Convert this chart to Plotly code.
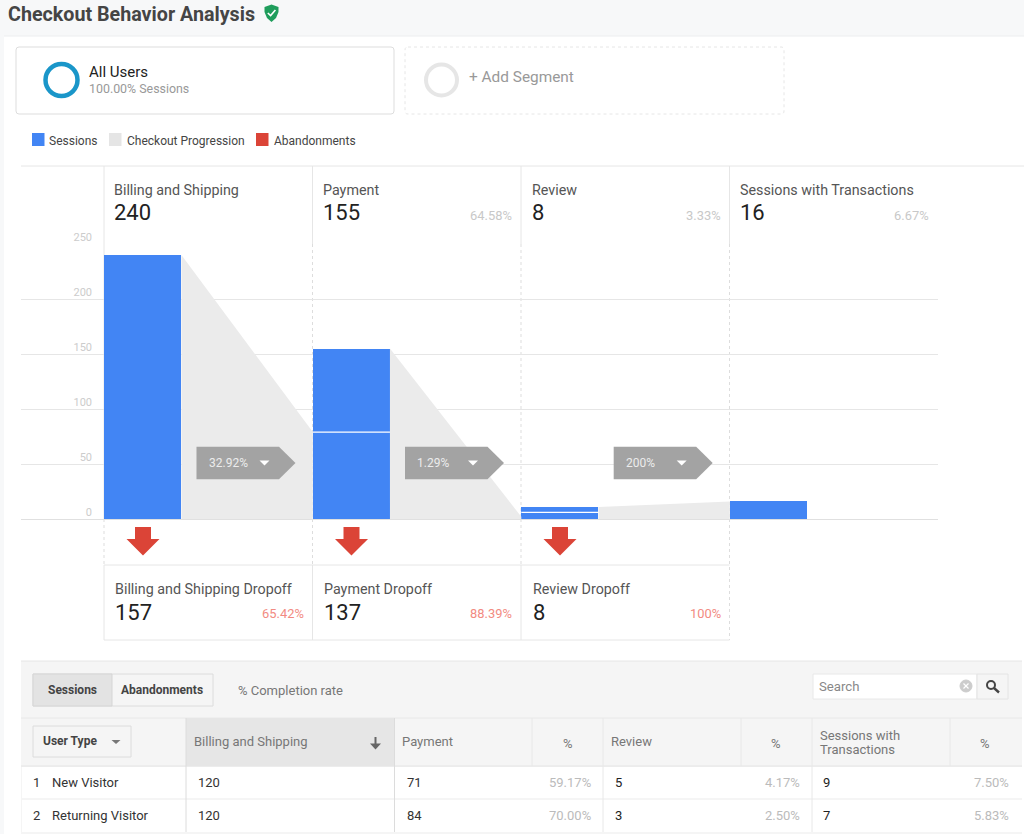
import plotly.graph_objects as go

W, H = 1024, 834

# ---------- data ----------
steps = ["Billing and Shipping", "Payment", "Review", "Sessions with Transactions"]
step_values = ["240", "155", "8", "16"]
step_pcts = ["", "64.58%", "3.33%", "6.67%"]
sessions_lower = [240, 79, 6, 16]
sessions_upper = [0, 76, 5, 0]
funnel_from = [240, 155, 11]
funnel_to = [79, 2, 16]
rates = ["32.92%", "1.29%", "200%"]
dropoff_names = ["Billing and Shipping Dropoff", "Payment Dropoff", "Review Dropoff"]
dropoff_values = ["157", "137", "8"]
dropoff_pcts = ["65.42%", "88.39%", "100%"]
y_ticks = [0, 50, 100, 150, 200, 250]
legend_names = ["Sessions", "Checkout Progression", "Abandonments"]
legend_colors = ["#4285f4", "#e5e5e5", "#db4437"]
table_rows = ["New Visitor", "Returning Visitor"]
table_billing = ["120", "120"]
table_payment = ["71", "84"]
table_payment_pct = ["59.17%", "70.00%"]
table_review = ["5", "3"]
table_review_pct = ["4.17%", "2.50%"]
table_trans = ["9", "7"]
table_trans_pct = ["7.50%", "5.83%"]

FONT = "Roboto"
shapes, notes = [], []


def fx(x):
    return x / W


def fy(y):
    return 1 - y / H


def text(x, y, s, size=13, color="#444444", anchor="left", weight=None):
    t = f"<b>{s}</b>" if weight else s
    if anchor == "left":
        x -= 1.5
    notes.append(dict(x=fx(x), y=fy(y), xref="paper", yref="paper", text=t, showarrow=False,
                      xanchor=anchor, yanchor="middle", borderpad=0,
                      font=dict(family=FONT, size=size, color=color)))


def rect(x0, y0, x1, y1, fill=None, line=None, width=1, dash=None, layer="below"):
    shapes.append(dict(type="rect", xref="paper", yref="paper", x0=fx(x0), x1=fx(x1), y0=fy(y0), y1=fy(y1),
                       fillcolor=fill or "rgba(0,0,0,0)", layer=layer,
                       line=dict(color=line or "rgba(0,0,0,0)", width=width if line else 0, dash=dash or "solid")))


def rrect(x0, y0, x1, y1, r, fill, line, dash=None):
    X, Y = fx, fy
    d = (f"M{X(x0 + r)},{Y(y0)} L{X(x1 - r)},{Y(y0)} Q{X(x1)},{Y(y0)} {X(x1)},{Y(y0 + r)} "
         f"L{X(x1)},{Y(y1 - r)} Q{X(x1)},{Y(y1)} {X(x1 - r)},{Y(y1)} L{X(x0 + r)},{Y(y1)} "
         f"Q{X(x0)},{Y(y1)} {X(x0)},{Y(y1 - r)} L{X(x0)},{Y(y0 + r)} Q{X(x0)},{Y(y0)} {X(x0 + r)},{Y(y0)} Z")
    shapes.append(dict(type="path", xref="paper", yref="paper", path=d, fillcolor=fill, layer="below",
                       line=dict(color=line, width=1, dash=dash or "solid")))


def seg(x0, y0, x1, y1, color="#e6e6e6", width=1, dash=None, layer="below"):
    shapes.append(dict(type="line", xref="paper", yref="paper", x0=fx(x0), x1=fx(x1), y0=fy(y0), y1=fy(y1),
                       layer=layer, line=dict(color=color, width=width, dash=dash or "solid")))


def poly(points, fill, layer="above"):
    d = "M" + " L".join(f"{fx(a):.5f},{fy(b):.5f}" for a, b in points) + " Z"
    shapes.append(dict(type="path", xref="paper", yref="paper", path=d, fillcolor=fill, layer=layer, line=dict(width=0)))


def ring(cx, cy, r, color, width, fill=None):
    shapes.append(dict(type="circle", xref="paper", yref="paper", x0=fx(cx - r), x1=fx(cx + r), y0=fy(cy - r), y1=fy(cy + r),
                       fillcolor=fill or "rgba(0,0,0,0)", layer="above", line=dict(color=color, width=width)))


# ---------- page chrome ----------
rect(0, 0, W, H, fill="#f7f8f9")
rect(4, 36, W, H, fill="#ffffff")
seg(4, 36, W, 36, "#eceeef")
text(8, 14, "Checkout Behavior Analysis", 19.7, "#454545", weight=True)
poly([(271.5, 4.5), (278.5, 7), (278.5, 12), (276, 18), (271.5, 22), (267, 18), (264.5, 12), (264.5, 7)], "#1f9d5c")
shapes.append(dict(type="path", xref="paper", yref="paper", layer="above", line=dict(color="#ffffff", width=1.6),
                   path=f"M{fx(267.8):.5f},{fy(13):.5f} L{fx(270.6):.5f},{fy(15.6):.5f} L{fx(275.4):.5f},{fy(10):.5f}"))

rrect(16, 47, 394, 114, 3, "#ffffff", "#dddddd")
ring(61.5, 80, 16, "#1a96c9", 4.5)
text(89, 72, "All Users", 15, "#222222")
text(89, 88, "100.00% Sessions", 12.4, "#999999")
rrect(405, 47, 784, 114, 3, "#ffffff", "#e6e6e6", "dot")
ring(441.5, 80, 15.5, "#e6e6e6", 4)
text(469, 77, "+ Add Segment", 15.4, "#999999")

for sx, tx, name, col in zip([32, 109, 256], [49.5, 127, 274], legend_names, legend_colors):
    rect(sx, 133, sx + 12.5, 146, fill=col)
    text(tx, 141, name, 12, "#444444")

# ---------- funnel frame ----------
col_left = [104, 312.5, 521, 729.5]
seg(21, 166, W, 166)
for x in col_left:
    seg(x, 166, x, 244)
for x in col_left[1:]:
    seg(x, 244, x, 519, "#dddddd", 1, "3px,3px")
seg(104, 244, 104, 519, "#e6e6e6")
seg(312.5, 519, 312.5, 565, "#dddddd", 1, "3px,3px")
seg(521, 519, 521, 565, "#dddddd", 1, "3px,3px")
seg(104, 519, 104, 565, "#dddddd", 1, "3px,3px")
seg(729.5, 519, 729.5, 640, "#dddddd", 1, "3px,3px")
seg(104, 565, 729.5, 565)
seg(104, 640, 729.5, 640)
for x in col_left[:3]:
    seg(x, 565, x, 640)

for i, x in enumerate(col_left):
    dx = 1 if i == 2 else 0
    text(x + 10.5 + dx, 190, steps[i], 14.3, "#555555")
    text(x + 10.5 + dx, 213, step_values[i], 22, "#222222")
    if step_pcts[i]:
        text(x + 200.5, 216, step_pcts[i], 12.9, "#c8c8c8", anchor="right")

for i, x in enumerate(col_left[:3]):
    dx = 1 if i == 2 else 0
    text(x + 11.5 + dx, 589, dropoff_names[i], 14.3, "#555555")
    text(x + 11.5 + dx, 612.5, dropoff_values[i], 22, "#222222")
    text(x + 200.5, 613, dropoff_pcts[i], 12.9, "#f28b82", anchor="right")
    c = x + 39
    poly([(c - 8, 527), (c + 8, 527), (c + 8, 539), (c + 16.5, 539), (c, 555.5), (c - 16.5, 539), (c - 8, 539)], "#db4437")

for x, r in zip([196.5, 405, 613.7], rates):
    poly([(x, 446.7), (x + 82.5, 446.7), (x + 99, 463), (x + 82.5, 479.3), (x, 479.3)], "#a3a3a3")
    text(x + 12.5, 462.5, r, 12, "#ececec")
    c = x + 68
    poly([(c - 5, 460.5), (c + 5, 460.5), (c, 465.5)], "#ffffff")

# ---------- table ----------
rect(21, 661, 1022, 834, fill="#f5f5f5")
seg(21, 661, 1022, 661, "#e6e6e6")
seg(21, 718, 1022, 718, "#e8e8e8")
seg(21, 766, 1022, 766, "#e4e4e4")
rect(186, 718, 394.5, 766, fill="#e6e6e6")
rect(22, 767, 1022, 798, fill="#ffffff")
rect(22, 800, 1022, 832, fill="#ffffff")
for x in [186, 394.5, 603, 812]:
    seg(x, 718, x, 832, "#dcdcdc" if x in (186, 394.5) else "#e8e8e8")
for x in [532, 741, 950]:
    seg(x, 718, x, 766, "#e8e8e8")

rect(33, 674, 213, 706, fill="#f5f5f5", line="#dcdcdc")
rect(33, 674, 112, 706, fill="#e3e3e3", line="#d5d5d5")
text(72.5, 690, "Sessions", 12, "#444444", "center", True)
text(162, 690, "Abandonments", 12, "#444444", "center", True)
text(238, 690, "% Completion rate", 13, "#777777")

rect(813, 674, 977, 699, fill="#ffffff", line="#e8e8e8")
rect(977, 674, 1008, 699, fill="#f5f5f5", line="#e4e4e4")
text(819, 686, "Search", 13.2, "#888888")
ring(966, 686, 6, "#cccccc", 1, "#cccccc")
seg(963.5, 683.5, 968.5, 688.5, "#ffffff", 1.2, layer="above")
seg(968.5, 683.5, 963.5, 688.5, "#ffffff", 1.2, layer="above")
ring(991, 685, 4, "#444444", 2)
seg(994, 688, 999, 692.5, "#444444", 2.4, layer="above")

rect(33, 726, 131, 757, fill="#f5f5f5", line="#dcdcdc")
text(43, 741, "User Type", 12, "#444444", weight=True)
poly([(111.5, 740), (120.5, 740), (116, 744)], "#777777")

text(194, 741, steps[0], 13, "#777777")
seg(375.5, 737, 375.5, 748, "#666666", 2, layer="above")
poly([(370, 743.5), (381, 743.5), (375.5, 749.5)], "#666666")
text(402, 741, steps[1], 13, "#777777")
text(568, 743, "%", 13, "#777777", "center")
text(611, 741, steps[2], 13, "#777777")
text(776, 743, "%", 13, "#777777", "center")
text(820, 735, "Sessions with", 13, "#777777")
text(820, 749, "Transactions", 13, "#777777")
text(985, 743, "%", 13, "#777777", "center")

for i, ry in enumerate([782, 815]):
    text(33, ry, str(i + 1), 13, "#333333")
    text(52, ry, table_rows[i], 13, "#333333")
    text(198, ry, table_billing[i], 13, "#333333")
    text(407, ry, table_payment[i], 13, "#333333")
    text(591.5, ry, table_payment_pct[i], 13, "#bbbbbb", "right")
    text(615, ry, table_review[i], 13, "#222222")
    text(800.5, ry, table_review_pct[i], 13, "#bbbbbb", "right")
    text(823, ry, table_trans[i], 13, "#222222")
    text(1009.5, ry, table_trans_pct[i], 13, "#bbbbbb", "right")

# ---------- chart ----------
BAR_W = 0.37
pos = list(range(len(steps)))
fig = go.Figure()

for i in range(len(funnel_from)):
    a, b = pos[i] - 0.5 + BAR_W, pos[i + 1] - 0.5
    fig.add_trace(go.Scatter(x=[a, a, b, b, a], y=[0, funnel_from[i], funnel_to[i], 0, 0], mode="none", fill="toself",
                             fillcolor="#ebebeb", name=legend_names[1], showlegend=False, hoverinfo="skip"))

fig.add_trace(go.Bar(x=pos, y=sessions_lower, width=BAR_W, offset=-0.5, marker=dict(color=legend_colors[0], line=dict(width=0)),
                     name=legend_names[0], showlegend=False))
fig.add_trace(go.Bar(x=pos, y=sessions_upper, width=BAR_W, offset=-0.5, marker=dict(color=legend_colors[0], line=dict(width=0)),
                     name=legend_names[0], showlegend=False))

sep_x, sep_y = [], []
for p, low, up in zip(pos, sessions_lower, sessions_upper):
    if up:
        sep_x += [p - 0.5, p - 0.5 + BAR_W, None]
        sep_y += [low, low, None]
fig.add_trace(go.Scatter(x=sep_x, y=sep_y, mode="lines", line=dict(color="#ffffff", width=1.2), showlegend=False, hoverinfo="skip"))

fig.update_layout(
    width=W, height=H, margin=dict(l=0, r=0, t=0, b=0, pad=0, autoexpand=False),
    paper_bgcolor="#ffffff", plot_bgcolor="rgba(0,0,0,0)",
    barmode="stack", showlegend=False, shapes=shapes, annotations=notes, font=dict(family=FONT),
    xaxis=dict(domain=[fx(21), fx(938)], range=[-0.8995, 3.4985], showgrid=False, zeroline=False, showticklabels=False,
               ticks="", showline=False, fixedrange=True, automargin=False),
    yaxis=dict(domain=[fy(519), fy(244)], range=[0, 250], tickvals=y_ticks, gridcolor="#e6e6e6", gridwidth=1,
               zeroline=True, zerolinecolor="#e0e0e0", zerolinewidth=1, showline=False, ticks="",
               anchor="free", position=fx(92), ticklabelshift=-7, automargin=False,
               tickfont=dict(family=FONT, size=11, color="#cccccc"), fixedrange=True),
)

# the body's default 8px margin is removed so the page is exactly the figure's size
fig.write_html("out.html", post_script="document.body.style.margin='0';", config=dict(displayModeBar=False))
